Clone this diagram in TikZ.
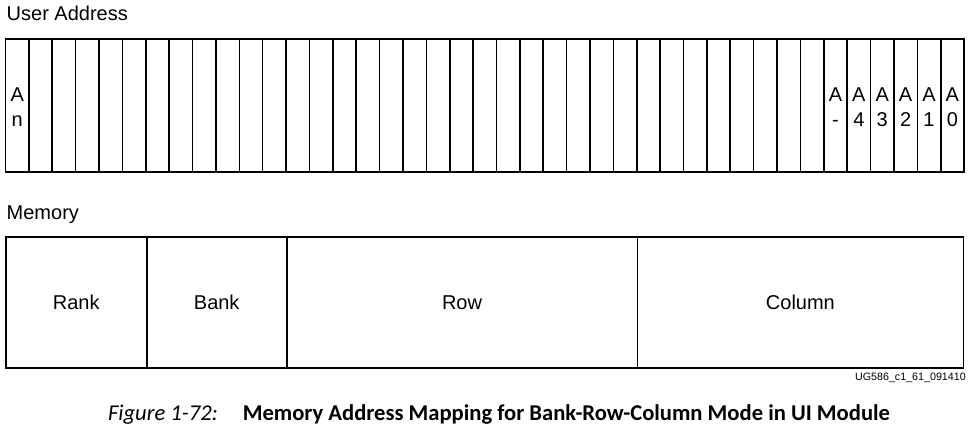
\documentclass[tikz,border=0pt]{standalone}
\usepackage{fontspec}
\setmainfont{Liberation Sans}
\newfontfamily\capfont{Carlito}
\begin{document}
\begin{tikzpicture}[x=1pt,y=-1pt,
  cell/.style={draw=black,line width=1.6pt,inner sep=0pt,outer sep=0pt,
    minimum width=23.38pt,minimum height=133pt},
  membox/.style={draw=black,line width=1.6pt,inner sep=0pt,outer sep=0pt,
    minimum height=131pt,font=\fontsize{20}{24}\selectfont},
  lbl/.style={inner sep=0pt,anchor=base,font=\fontsize{20}{24}\selectfont},
  title/.style={inner sep=0pt,anchor=base west,font=\fontsize{20}{24}\selectfont}]
\useasboundingbox (0,0) rectangle (968,428);
% titles
\node[title] (ua) at (6.5,20.7) {User Address};
\node[title] (mem) at (6.5,219.3) {Memory};
% user address cells
\foreach \i in {0,...,40}{
  \node[cell] (c\i) at ({5.5+23.38*(\i+0.5)},105.5) {};
}
\node[lbl] (a0t) at (c0.center) [yshift=3.8pt] {A};
\node[lbl] (a0b) at (c0.center) [yshift=-20.5pt] {n};
\foreach \i/\s in {35/-,36/4,37/3,38/2,39/1,40/0}{
  \node[lbl] (t\i) at (c\i.center) [yshift=3.8pt] {A};
  \node[lbl] (b\i) at (c\i.center) [yshift=-20.5pt] {\s};
}
% memory fields
\node[membox,minimum width=141pt] (rank) at (76.2,302.6) {Rank};
\node[membox,minimum width=140pt] (bank) at (216.7,302.6) {Bank};
\node[membox,minimum width=350.6pt] (row) at (462,302.6) {Row};
\node[membox,minimum width=326.2pt] (col) at (800.4,302.6) {Column};
% id
\node[inner sep=0pt,anchor=base east,font=\fontsize{10.7}{12}\selectfont] (id) at (966,380) {UG586\_c1\_61\_091410};
% caption
\node[inner sep=0pt,anchor=base,font=\capfont\fontsize{22.6}{26}\selectfont] (cap) at (499,420)
  {\textit{Figure 1-72:}\hspace{25pt}\textbf{Memory Address Mapping for Bank-Row-Column Mode in UI Module}};
\end{tikzpicture}
\end{document}
